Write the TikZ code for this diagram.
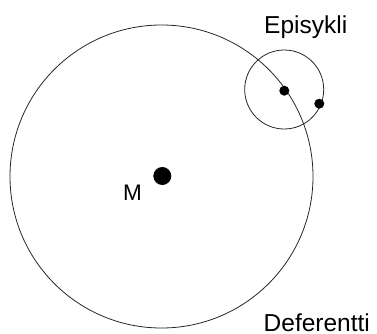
\documentclass[tikz,border=0pt]{standalone}
\usepackage{fontspec}
\setmainfont{Liberation Sans}
\begin{document}
\begin{tikzpicture}[x=1pt,y=-1pt,
  orbit/.style={draw=black!85,line width=0.8pt},
  bigdot/.style={circle,fill=black,inner sep=0pt,minimum size=18pt},
  smalldot/.style={circle,fill=black,inner sep=0pt,minimum size=10pt},
  lbl/.style={inner sep=0pt,anchor=base west,font=\fontsize{24.5}{28}\selectfont}]
\useasboundingbox (0,0) rectangle (377,334);
\coordinate (defc) at (161.5,176.5);
\coordinate (epic) at (284.2,89.5);
\draw[orbit] (defc) circle[radius=151.5];
\draw[orbit] (epic) circle[radius=39.5];
\node[bigdot] (M) at (162.3,176) {};
\node[smalldot] (E) at (284.3,90.7) {};
\node[smalldot] (P) at (319.3,103.7) {};
\node[lbl,font=\fontsize{22.5}{26}\selectfont] (mlabel) at (123,200) {M};
\node[lbl] (elabel) at (264,33.3) {Episykli};
\node[lbl] (dlabel) at (263.5,331.5) {Deferentti};
\end{tikzpicture}
\end{document}
